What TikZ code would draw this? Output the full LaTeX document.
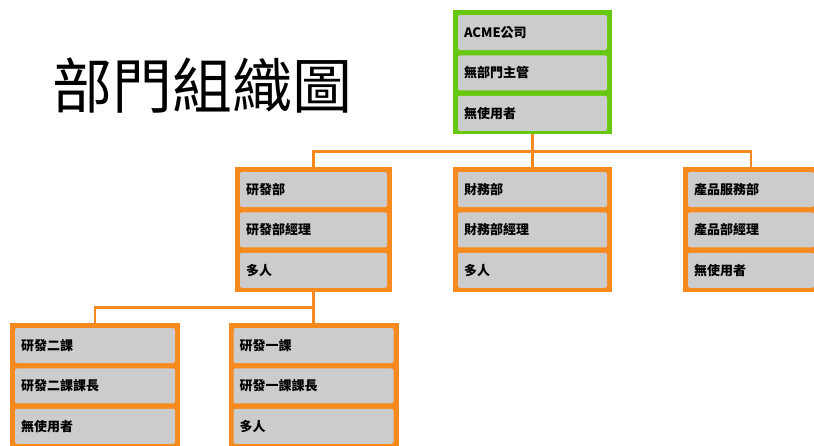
\documentclass[tikz,border=0pt]{standalone}
\usepackage{fontspec}
\usepackage{tikz}
\usetikzlibrary{positioning}
\newfontfamily\cjk{Noto Sans CJK TC}
\definecolor{unitorange}{RGB}{246,138,30}
\definecolor{unitgreen}{RGB}{104,200,16}
\definecolor{cellgray}{RGB}{204,204,204}

% one unit of the chart: frame plus three cells
\newcommand{\orgunit}[8]{%
  \pgfmathsetmacro\cellw{#4-22}
  \node [#5, minimum width=#4pt] (#1) at (#2,#3) {};
  \node [cell, text width=\cellw pt, below right=5pt and 5pt of #1.north west] (#1a) {#6};
  \node [cell, text width=\cellw pt, below=5pt of #1a] (#1b) {#7};
  \node [cell, text width=\cellw pt, below=5pt of #1b] (#1c) {#8};
}

\begin{document}
\begin{tikzpicture}[x=1pt,y=1pt,
    orangeframe/.style={fill=unitorange, minimum height=125pt, inner sep=0pt},
    greenframe/.style={fill=unitgreen, minimum height=124pt, inner sep=0pt},
    cell/.style={fill=cellgray, rounded corners=2pt, minimum height=35pt,
      inner xsep=6pt, inner ysep=0pt, align=left,
      font=\cjk\bfseries\fontsize{13}{15}\selectfont},
    link/.style={draw=unitorange, line width=2.8pt}]
  \useasboundingbox (0,0) rectangle (814,-445);
  \clip (0,0) rectangle (814,-445);
  \node [anchor=base west, inner sep=0pt, font=\cjk\fontsize{60}{64}\selectfont]
    (title) at (52,-108) {部門組織圖};
  \orgunit{acme}{532.5}{-72}{159}{greenframe}{ACME公司}{無部門主管}{無使用者}
  \orgunit{rd}{313.5}{-229.5}{157}{orangeframe}{研發部}{研發部經理}{多人}
  \orgunit{fin}{532.5}{-229.5}{159}{orangeframe}{財務部}{財務部經理}{多人}
  \orgunit{prod}{751}{-229.5}{136}{orangeframe}{產品服務部}{產品部經理}{無使用者}
  \orgunit{rdtwo}{95}{-385.5}{170}{orangeframe}{研發二課}{研發二課課長}{無使用者}
  \orgunit{rdone}{313.5}{-385.5}{170}{orangeframe}{研發一課}{研發一課課長}{多人}
  % connectors
  \draw [link] (acme.south) -- ++(0,-17) -| (rd.north);
  \draw [link] (acme.south) -- (fin.north);
  \draw [link] (acme.south) -- ++(0,-17) -| (prod.north);
  \draw [link] (rd.south) -- ++(0,-15) -| (rdtwo.north);
  \draw [link] (rd.south) -- (rdone.north);
\end{tikzpicture}
\end{document}
